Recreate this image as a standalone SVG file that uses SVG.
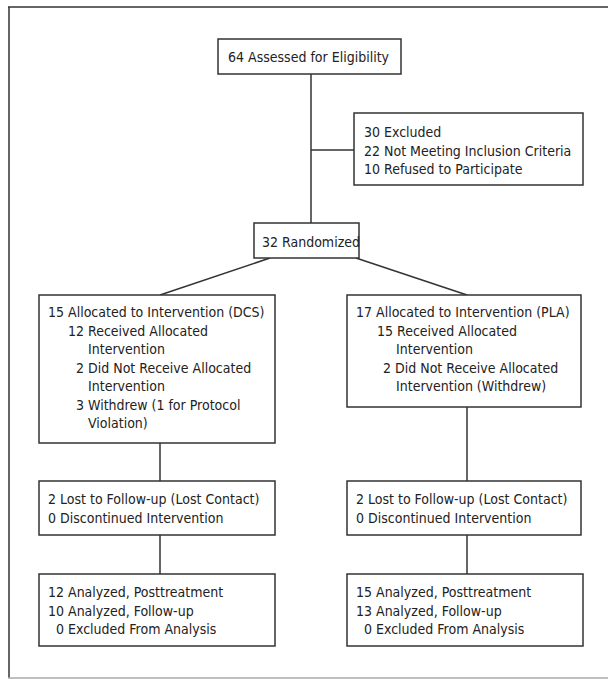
<svg xmlns="http://www.w3.org/2000/svg" width="608" height="679" viewBox="0 0 608 679">
<style>
.box{fill:#fff;stroke:#333;stroke-width:1.5}
.conn line{stroke:#333;stroke-width:1.5}
text{font-family:"Liberation Sans Narrow","DejaVu Sans Condensed","Liberation Sans",sans-serif;font-size:14px;fill:#222}
</style>
<rect width="608" height="679" fill="#fff"/>
<g id="frame">
<line x1="8" y1="7" x2="608" y2="7" stroke="#666" stroke-width="2"/>
<line x1="9" y1="7" x2="9" y2="678" stroke="#333" stroke-width="1.5"/>
<line x1="8" y1="678" x2="608" y2="678" stroke="#aaa" stroke-width="1.5"/>
</g>
<g class="conn" id="connectors">
<line x1="311" y1="74" x2="311" y2="223"/>
<line x1="311" y1="150" x2="354" y2="150"/>
<line x1="270" y1="258" x2="160" y2="295"/>
<line x1="356" y1="258" x2="467" y2="295"/>
<line x1="160" y1="443" x2="160" y2="481"/>
<line x1="160" y1="535" x2="160" y2="574"/>
<line x1="467" y1="407" x2="467" y2="481"/>
<line x1="467" y1="535" x2="467" y2="574"/>
</g>
<g id="assessed">
<rect class="box" x="218" y="39" width="183" height="35"/>
<text x="228" y="62">64 Assessed for Eligibility</text>
</g>
<g id="excluded">
<rect class="box" x="354" y="113" width="229" height="72"/>
<text x="364" y="137">30 Excluded</text>
<text x="364" y="155.5">22 Not Meeting Inclusion Criteria</text>
<text x="364" y="174">10 Refused to Participate</text>
</g>
<g id="randomized">
<rect class="box" x="254" y="223" width="105" height="35"/>
<text x="262" y="246.5">32 Randomized</text>
</g>
<g id="alloc-dcs">
<rect class="box" x="39" y="295" width="236" height="148"/>
<text x="48" y="317">15 Allocated to Intervention (DCS)</text>
<text x="68" y="335.5">12 Received Allocated</text>
<text x="88" y="354">Intervention</text>
<text x="76" y="372.5">2 Did Not Receive Allocated</text>
<text x="88" y="391">Intervention</text>
<text x="76" y="409.5">3 Withdrew (1 for Protocol</text>
<text x="88" y="428">Violation)</text>
</g>
<g id="alloc-pla">
<rect class="box" x="347" y="295" width="234" height="112"/>
<text x="356" y="317">17 Allocated to Intervention (PLA)</text>
<text x="377" y="335.5">15 Received Allocated</text>
<text x="396" y="354">Intervention</text>
<text x="383" y="372.5">2 Did Not Receive Allocated</text>
<text x="396" y="391">Intervention (Withdrew)</text>
</g>
<g id="lost-dcs">
<rect class="box" x="39" y="481" width="236" height="54"/>
<text x="48" y="504">2 Lost to Follow-up (Lost Contact)</text>
<text x="48" y="523">0 Discontinued Intervention</text>
</g>
<g id="lost-pla">
<rect class="box" x="347" y="481" width="234" height="54"/>
<text x="356" y="504">2 Lost to Follow-up (Lost Contact)</text>
<text x="356" y="523">0 Discontinued Intervention</text>
</g>
<g id="analyzed-dcs">
<rect class="box" x="39" y="574" width="236" height="72"/>
<text x="48" y="597">12 Analyzed, Posttreatment</text>
<text x="48" y="615.5">10 Analyzed, Follow-up</text>
<text x="56" y="634">0 Excluded From Analysis</text>
</g>
<g id="analyzed-pla">
<rect class="box" x="347" y="574" width="236" height="72"/>
<text x="356" y="597">15 Analyzed, Posttreatment</text>
<text x="356" y="615.5">13 Analyzed, Follow-up</text>
<text x="364" y="634">0 Excluded From Analysis</text>
</g>
</svg>
